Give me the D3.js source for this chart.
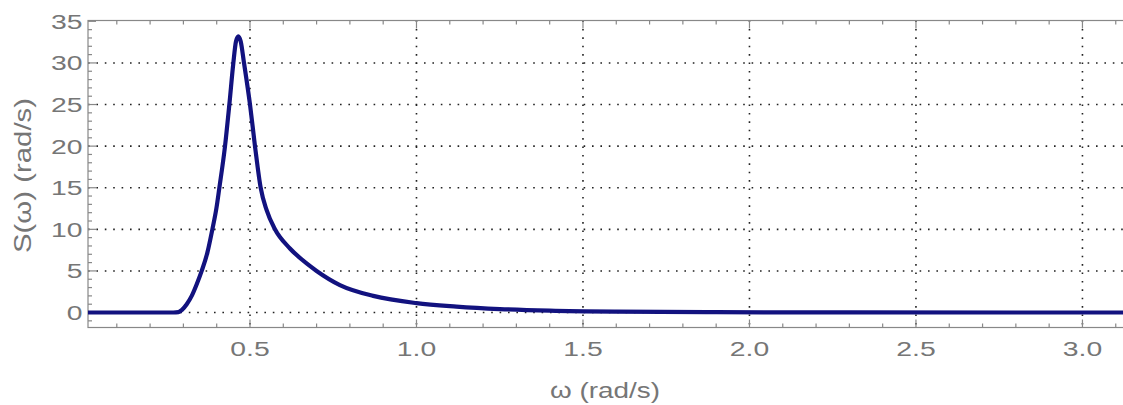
<!DOCTYPE html>
<html>
<head>
<meta charset="utf-8">
<script src="https://cdn.jsdelivr.net/npm/d3@7"></script>
<style>
  body { margin: 0; background: #fff; }
  #chart { display: block; }
  text { font-family: "Liberation Sans", Arial, sans-serif; fill: #767676; }
</style>
</head>
<body>
<svg id="chart" width="1123" height="405"></svg>
<script>
  // spectrum
  const omega = [0.01, 0.27, 0.285, 0.295, 0.31, 0.325, 0.34, 0.355, 0.372, 0.387, 0.399, 0.408, 0.425, 0.438, 0.45,
                 0.458, 0.465, 0.472, 0.482, 0.50, 0.515, 0.532, 0.55, 0.575, 0.62, 0.67, 0.70, 0.77, 0.87,
                 1.0, 1.12, 1.25, 1.4, 1.6, 1.9, 2.3, 2.8, 3.2];
  const spectrum = [0, 0, 0.05, 0.3, 1.0, 2.0, 3.4, 5, 7.2, 10, 12.5, 15, 20, 25, 30,
                    32.6, 33.2, 32.6, 30, 25, 20, 15, 12.3, 10, 7.7, 5.9, 5.0, 3.3, 2.0,
                    1.13, 0.72, 0.42, 0.22, 0.1, 0.04, 0.01, 0, 0];
  const xMajor = [0.5, 1.0, 1.5, 2.0, 2.5, 3.0];
  const yMajor = [0, 5, 10, 15, 20, 25, 30, 35];

  const svg = d3.select('#chart');
  const pLeft = 88, pTop = 20.5, pBottom = 327.5;

  const x = d3.scaleLinear().domain([0.0135, 3.1416]).range([pLeft, 1129.6]);
  const y = d3.scaleLinear().domain([-1.8, 35.1]).range([pBottom, pTop]);
  const pRight = x.range()[1];

  const xMinor = d3.range(1, 32).map(d => d / 10).filter(d => x(d) > pLeft);
  const yMinor = d3.range(-1, 36);

  // dotted grid
  const grid = svg.append('g')
    .attr('stroke', '#222')
    .attr('stroke-width', 1.6)
    .attr('stroke-dasharray', '1.6,6.8');
  grid.selectAll('.vg').data(xMajor).enter().append('line')
    .attr('x1', d => x(d)).attr('x2', d => x(d))
    .attr('y1', pTop).attr('y2', pBottom);
  grid.selectAll('.hg').data(yMajor.filter(d => d < 35)).enter().append('line')
    .attr('x1', pLeft).attr('x2', pRight)
    .attr('y1', d => y(d)).attr('y2', d => y(d));

  // frame with inward ticks
  const frame = svg.append('g').attr('stroke', '#888').attr('stroke-width', 1.2);
  frame.append('rect')
    .attr('x', pLeft).attr('y', pTop)
    .attr('width', pRight - pLeft).attr('height', pBottom - pTop)
    .attr('fill', 'none');

  function xTicks(vals, len) {
    vals.forEach(v => {
      const px = x(v);
      frame.append('line').attr('x1', px).attr('x2', px).attr('y1', pBottom).attr('y2', pBottom - len);
      frame.append('line').attr('x1', px).attr('x2', px).attr('y1', pTop).attr('y2', pTop + len);
    });
  }
  xTicks(xMinor.filter(d => !xMajor.includes(Math.round(d * 10) / 10)), 4);
  xTicks(xMajor, 8);
  function yTicks(vals, len) {
    vals.forEach(v => {
      const py = y(v);
      frame.append('line').attr('x1', pLeft).attr('x2', pLeft + len).attr('y1', py).attr('y2', py);
    });
  }
  yTicks(yMinor.filter(d => d % 5 !== 0), 4);
  yTicks(yMajor, 8);

  // tick labels (the source font is drawn wide)
  const stretch = 1.35;
  svg.selectAll('.xl').data(xMajor).enter().append('text')
    .attr('transform', d => `translate(${x(d)},356) scale(${stretch},1)`)
    .attr('text-anchor', 'middle')
    .attr('font-size', 21)
    .text(d => d.toFixed(1));
  svg.selectAll('.yl').data(yMajor).enter().append('text')
    .attr('transform', d => `translate(${pLeft - 5.5},${y(d) + 7.5}) scale(${stretch},1)`)
    .attr('text-anchor', 'end')
    .attr('font-size', 21)
    .text(d => d);

  // axis titles
  svg.append('text')
    .attr('x', 550).attr('y', 398)
    .attr('font-size', 22.5)
    .attr('textLength', 110)
    .attr('lengthAdjust', 'spacingAndGlyphs')
    .text('ω (rad/s)');
  svg.append('text')
    .attr('transform', 'translate(30.5,253) rotate(-90)')
    .attr('font-size', 24)
    .attr('textLength', 155)
    .attr('lengthAdjust', 'spacingAndGlyphs')
    .text('S(ω) (rad/s)');

  // curve
  svg.append('clipPath').attr('id', 'clip').append('rect')
    .attr('x', pLeft).attr('y', pTop).attr('width', pRight - pLeft).attr('height', pBottom - pTop);

  const line = d3.line()
    .x(d => x(omega[d]))
    .y(d => y(spectrum[d]))
    .curve(d3.curveMonotoneX);

  svg.append('path')
    .attr('clip-path', 'url(#clip)')
    .attr('d', line(d3.range(omega.length)))
    .attr('fill', 'none')
    .attr('stroke', '#12127f')
    .attr('stroke-width', 4.2)
    .attr('stroke-linejoin', 'round');
</script>
</body>
</html>
